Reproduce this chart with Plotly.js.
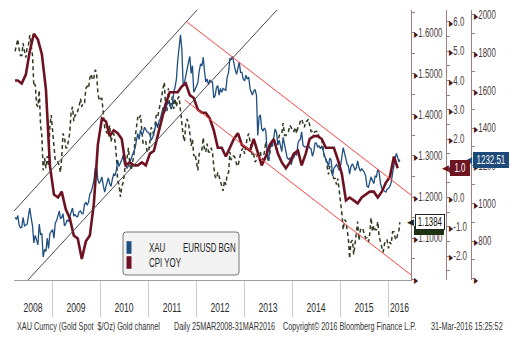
<!DOCTYPE html>
<html><head><meta charset="utf-8">
<script src="https://cdn.plot.ly/plotly-3.0.1.min.js"></script>
<style>html,body{margin:0;padding:0;background:#fff}#chart{width:523px;height:341px}</style>
</head><body><div id="chart"></div>
<script>
// ---------------- DATA ----------------
// XAU (gold spot, $/oz): first point 25 Mar 2008, then 5th/15th/25th of each month Apr 2008 - Mar 2016, last point 31 Mar 2016
const xauValues = [925,
 915,935,885, 870,872,925, 880,885,890, 935,975,925, 880,790,830, 805,780,890, 835,840,715, 755,745,815, 760,840,850,
 860,815,895, 910,945,960, 920,925,945, 880,890,910, 905,930,955, 975,935,940, 930,930,955, 960,945,945, 995,1005,990, 1005,1050,1060, 1090,1120,1185, 1200,1125,1105,
 1120,1140,1095, 1060,1090,1110, 1135,1105,1090, 1130,1155,1150, 1175,1230,1195, 1215,1230,1255, 1210,1205,1185, 1200,1220,1240, 1250,1270,1295, 1335,1370,1340, 1390,1365,1375, 1405,1390,1380,
 1375,1365,1335, 1350,1375,1410, 1430,1400,1435, 1450,1480,1510, 1480,1495,1525, 1540,1525,1500, 1515,1590,1615, 1660,1760,1840, 1895,1820,1630, 1640,1680,1700, 1750,1780,1690, 1730,1590,1605,
 1620,1640,1700, 1740,1730,1775, 1705,1645,1660, 1630,1655,1645, 1645,1560,1570, 1615,1625,1575, 1610,1590,1610, 1605,1600,1670, 1695,1770,1765, 1780,1740,1710, 1685,1715,1750, 1695,1695,1660,
 1650,1680,1660, 1670,1610,1590, 1575,1595,1605, 1575,1360,1460, 1470,1395,1385, 1400,1385,1275, 1225,1285,1320, 1305,1365,1395, 1375,1310,1335, 1310,1275,1350, 1310,1285,1240, 1235,1240,1205,
 1235,1245,1265, 1255,1320,1335, 1340,1380,1310, 1300,1300,1300, 1310,1295,1290, 1250,1275,1320, 1320,1300,1305, 1290,1305,1280, 1265,1230,1220, 1195,1240,1230, 1145,1185,1195, 1205,1195,1175,
 1200,1265,1295, 1265,1230,1205, 1200,1155,1195, 1210,1195,1175, 1190,1225,1190, 1170,1185,1175, 1165,1145,1090, 1085,1115,1140, 1120,1105,1145, 1140,1180,1165, 1105,1080,1070, 1065,1060,1075,
 1080,1090,1110, 1160,1210,1240, 1265,1235,1220,
 1232.51];

// EURUSD BGN, same dates as XAU
const eurValues = [1.555,
 1.575,1.585,1.560, 1.545,1.545,1.575, 1.555,1.540,1.565, 1.570,1.595,1.570, 1.545,1.470,1.475, 1.425,1.420,1.460, 1.375,1.350,1.265, 1.295,1.270,1.300, 1.275,1.375,1.400,
 1.360,1.320,1.290, 1.290,1.285,1.275, 1.260,1.295,1.355, 1.345,1.320,1.320, 1.335,1.355,1.405, 1.420,1.385,1.400, 1.400,1.410,1.420, 1.440,1.420,1.430, 1.430,1.465,1.470, 1.465,1.490,1.500, 1.485,1.490,1.510, 1.505,1.455,1.435,
 1.440,1.440,1.410, 1.370,1.360,1.355, 1.360,1.375,1.335, 1.350,1.355,1.335, 1.300,1.240,1.230, 1.200,1.225,1.235, 1.255,1.290,1.295, 1.320,1.280,1.265, 1.285,1.300,1.345, 1.370,1.395,1.390, 1.400,1.360,1.330, 1.335,1.335,1.310,
 1.310,1.335,1.370, 1.360,1.350,1.380, 1.400,1.395,1.410, 1.425,1.445,1.465, 1.480,1.415,1.410, 1.465,1.420,1.425, 1.445,1.415,1.440, 1.420,1.440,1.445, 1.405,1.380,1.350, 1.335,1.380,1.390, 1.380,1.355,1.325, 1.340,1.300,1.305,
 1.280,1.265,1.305, 1.310,1.315,1.345, 1.315,1.310,1.330, 1.310,1.310,1.320, 1.310,1.275,1.250, 1.245,1.260,1.250, 1.240,1.225,1.215, 1.240,1.230,1.255, 1.260,1.310,1.290, 1.300,1.300,1.295, 1.280,1.275,1.295, 1.305,1.315,1.320,
 1.305,1.330,1.345, 1.355,1.335,1.310, 1.300,1.305,1.285, 1.290,1.310,1.300, 1.310,1.290,1.295, 1.310,1.335,1.310, 1.285,1.305,1.325, 1.325,1.330,1.335, 1.315,1.330,1.350, 1.355,1.355,1.380, 1.350,1.350,1.355, 1.360,1.375,1.370,
 1.360,1.360,1.370, 1.355,1.370,1.375, 1.385,1.390,1.380, 1.370,1.385,1.385, 1.390,1.370,1.360, 1.360,1.355,1.360, 1.360,1.360,1.345, 1.340,1.340,1.320, 1.295,1.295,1.270, 1.255,1.275,1.265, 1.250,1.245,1.245, 1.230,1.245,1.220,
 1.195,1.160,1.120, 1.145,1.140,1.120, 1.100,1.050,1.090, 1.095,1.060,1.085, 1.120,1.140,1.095, 1.120,1.125,1.120, 1.110,1.100,1.100, 1.090,1.110,1.150, 1.115,1.130,1.120, 1.120,1.140,1.105, 1.090,1.075,1.065, 1.085,1.095,1.095,
 1.075,1.090,1.085, 1.115,1.115,1.100, 1.095,1.110,1.120,
 1.1384];

// CPI YOY (%): first point 25 Mar 2008, then one release per month (15th) Apr 2008 - Mar 2016
const cpiValues = [4.0,
 4.0,3.9,4.2,5.0,5.6,5.4,4.9,3.7,1.1,
 0.1,0.0,0.2,-0.4,-0.7,-1.3,-1.4,-2.1,-1.5,-1.3,-0.2,1.8,
 2.7,2.6,2.1,2.3,2.2,2.0,1.1,1.2,1.1,1.1,1.2,1.1,
 1.5,1.6,2.1,2.7,3.2,3.6,3.6,3.6,3.8,3.9,3.5,3.4,
 3.0,2.9,2.9,2.7,2.3,1.7,1.7,1.4,1.7,2.0,2.2,1.8,
 1.7,1.6,2.0,1.5,1.1,1.4,1.8,2.0,1.5,1.2,1.0,1.2,
 1.5,1.6,1.1,1.5,2.0,2.1,2.1,2.0,1.7,1.7,1.7,1.3,
 0.8,-0.1,0.0,-0.1,-0.2,0.0,0.1,0.2,0.2,0.0,0.2,0.5,
 0.7,1.4,1.0];

// Channel trend lines (date, XAU level) drawn on the chart
const blackChannelDates  = [['2008-03-17','2012-01-09'], ['2008-07-01','2013-09-08']];
const blackChannelValues = [[959, 2026.5], [593, 2026.5]];
const redChannelDates    = [['2011-10-24','2016-06-24'], ['2011-10-08','2016-06-24']];
const redChannelValues   = [[1963, 1044], [1549, 620]];

// Axis ticks
const yearLabels   = ['2008','2009','2010','2011','2012','2013','2014','2015','2016'];
const yearLabelPos = ['2008-08-09','2009-07-02','2010-07-02','2011-07-02','2012-07-02','2013-07-02','2014-07-02','2015-07-02','2016-03-28'];
const eurTicks = [1.0,1.1,1.2,1.3,1.4,1.5,1.6];
const cpiTicks = [-2,-1,0,1,2,3,4,5,6];
const xauTicks = [600,800,1000,1200,1400,1600,1800,2000];

const seriesNames = {xau:'XAU', cpi:'CPI YOY', eur:'EURUSD BGN'};
const footerTexts = ['XAU Curncy (Gold Spot  $/Oz) Gold channel', 'Daily 25MAR2008-31MAR2016',
  'Copyright© 2016 Bloomberg Finance L.P.', '31-Mar-2016 15:25:52'];

// ---------------- DATES ----------------
function pad(n){return (n<10?'0':'')+n;}
const xauDates = ['2008-03-25'];
const cpiDates = ['2008-03-25'];
for (let y=2008; y<=2016; y++) {
  for (let m=1; m<=12; m++) {
    if (y===2008 && m<4) continue;
    if (y===2016 && m>3) break;
    [5,15,25].forEach(d => xauDates.push(y+'-'+pad(m)+'-'+pad(d)));
    cpiDates.push(y+'-'+pad(m)+'-15');
  }
}
xauDates.push('2016-03-31');

// ---------------- LAYOUT HELPERS ----------------
const W=523, H=341, ML=14, MR=52, MT=10, MB=61;
const PW=W-ML-MR, PH=H-MT-MB;
const px = v => (v-ML)/PW;
const py = v => (H-MB-v)/PH;
const COND = 0.66;   // horizontal condensation of all texts (narrow Bloomberg face)

const FONT='Liberation Sans, Arial, sans-serif';
const C_XAU='#1f4e80', C_CPI='#6e1222', C_EUR='#2f3a1e';
const AXC='#9a8080', LBL='#4a3c3c';
const tri='<span style="font-size:8px;color:#4a1414">▶</span>';

const traces = [
  {type:'scatter', mode:'lines', x:xauDates, y:eurValues, yaxis:'y', name:seriesNames.eur, showlegend:false,
   line:{color:C_EUR, width:1.5, dash:'4px,3px'}, hoverinfo:'skip'},
  {type:'scatter', mode:'lines', x:xauDates, y:xauValues, yaxis:'y2', name:seriesNames.xau, showlegend:false,
   line:{color:C_XAU, width:1.3}, hoverinfo:'skip'},
  {type:'scatter', mode:'lines', x:cpiDates, y:cpiValues, yaxis:'y3', name:seriesNames.cpi, showlegend:false,
   line:{color:C_CPI, width:2.6}, hoverinfo:'skip'},
  // legend entries
  {type:'scatter', mode:'markers', x:[null], y:[null], name:seriesNames.xau, legend:'legend',
   marker:{symbol:'line-ns-open', size:9, color:C_XAU, line:{color:C_XAU, width:5}}},
  {type:'scatter', mode:'markers', x:[null], y:[null], name:seriesNames.cpi, legend:'legend2',
   marker:{symbol:'line-ns-open', size:9, color:C_CPI, line:{color:C_CPI, width:5}}},
  {type:'scatter', mode:'markers', x:[null], y:[null], name:seriesNames.eur, legend:'legend3',
   marker:{symbol:'line-ns-open', size:9, color:'rgba(255,255,255,0)', line:{color:'rgba(255,255,255,0)', width:5}}}
];

function yAxisCommon(ticks, fmt, range) {
  return {
    range: range, tickmode:'array', tickvals: ticks,
    ticktext: ticks.map(fmt),
    showgrid:false, zeroline:false, showline:true, linecolor:AXC, linewidth:1,
    ticks:'', side:'right',
    tickfont:{family:FONT, size:12, color:LBL}, fixedrange:true
  };
}

const yaxis = Object.assign(yAxisCommon(eurTicks, v => v===1.0 ? tri : tri+v.toFixed(4), [0.9976, 1.656]),
  {anchor:'x', minor:{ticks:'outside', ticklen:3, tickcolor:AXC, dtick:0.05, tick0:1.0}});
const yaxis2 = Object.assign(yAxisCommon(xauTicks, v => v===600 ? tri : tri+v, [593, 2026.5]),
  {overlaying:'y', anchor:'free', position:1.0, minor:{ticks:'outside', ticklen:3, tickcolor:AXC, dtick:100, tick0:600}});
const yaxis3 = Object.assign(yAxisCommon(cpiTicks, v => v===1 ? tri : tri+v.toFixed(1), [-2.82, 6.41]),
  {overlaying:'y', anchor:'free', position:px(446), minor:{ticks:'outside', ticklen:3, tickcolor:AXC, dtick:0.5, tick0:0}});

function lineShapes(dates, vals, color) {
  return dates.map((d,i) => ({type:'line', xref:'x', yref:'y2', x0:d[0], x1:d[1], y0:vals[i][0], y1:vals[i][1],
    line:{color:color, width:1}, layer:'above'}));
}

function roundRect(x0,y0,x1,y1,r){
  const rx=r/PW, ry=r/PH;
  const a=px(x0), b=px(x1), t=py(y0), u=py(y1);
  return `M${a+rx},${t} L${b-rx},${t} Q${b},${t} ${b},${t-ry} L${b},${u+ry} Q${b},${u} ${b-rx},${u} L${a+rx},${u} Q${a},${u} ${a},${u+ry} L${a},${t-ry} Q${a},${t} ${a+rx},${t} Z`;
}

const shapes = [
  ...lineShapes(blackChannelDates, blackChannelValues, '#4a4a4a'),
  ...lineShapes(redChannelDates, redChannelValues, '#ff4444'),
  {type:'path', xref:'paper', yref:'paper', path:roundRect(123,232,239,275,3),
   fillcolor:'#f3f3f3', line:{color:'#777777', width:1}, layer:'above'},
  {type:'rect', xref:'paper', yref:'paper', x0:px(414), x1:px(444), y0:py(235), y1:py(226),
   fillcolor:'#1e3311', line:{width:0}, layer:'above'}
];

const legFont = {family:FONT, size:12, color:'#222'};
function leg(xp, yp){ return {x:px(xp), y:py(yp), xanchor:'left', yanchor:'top', bgcolor:'rgba(0,0,0,0)',
  borderwidth:0, font:legFont, itemwidth:30, orientation:'v'}; }

const lastX = xauValues[xauValues.length-1];
const lastC = cpiValues[cpiValues.length-1];
const lastE = eurValues[eurValues.length-1];

function valueLabel(xp, w, yref, yv, text, bg, fg, border){
  return [
    {xref:'paper', yref:yref, x:px(xp), y:yv, xanchor:'left', yanchor:'middle', text:text, showarrow:false,
     width:w, height:12, align:'center',
     bgcolor:bg, bordercolor:border, borderwidth:1, borderpad:1, font:{family:FONT, size:12, color:fg}},
    {xref:'paper', yref:yref, x:px(xp+1), y:yv, xanchor:'right', yanchor:'middle', text:'◀', showarrow:false,
     font:{family:'DejaVu Sans', size:9, color:border}}
  ];
}

const footFont = {family:FONT, size:11, color:'#333'};
const footX = [15, 172, 281, 429];
const annotations = [
  ...valueLabel(473, 32, 'y2', lastX, lastX.toFixed(2), '#1d4a7a', '#ffffff', '#1d4a7a'),
  ...valueLabel(450, 16, 'y3', lastC, lastC.toFixed(1), '#6e1523', '#ffffff', '#6e1523'),
  ...valueLabel(415, 26, 'y', lastE, lastE.toFixed(4), '#ffffff', '#111111', '#222222'),
  ...footerTexts.map((t,i) => ({xref:'paper', yref:'paper', x:px(footX[i]), y:py(326), xanchor:'left', yanchor:'middle',
     align:'left', showarrow:false, text:t, font:footFont}))
];

const layout = {
  width:W, height:H, margin:{l:ML, r:MR, t:MT, b:MB},
  paper_bgcolor:'#ffffff', plot_bgcolor:'#ffffff',
  showlegend:true,
  xaxis:{type:'date', range:['2008-03-17','2016-06-24'], domain:[0, px(411)],
    tickmode:'array', tickvals:yearLabelPos, ticktext:yearLabels,
    ticks:'outside', ticklen:15, tickcolor:'rgba(0,0,0,0)',
    tickfont:{family:FONT, size:13, color:'#2a2a2a'},
    showgrid:false, zeroline:false, showline:true, linecolor:'#9c9ca4', linewidth:1,
    minor:{ticks:'outside', ticklen:36, tickcolor:'#c9c9d2', tickwidth:1, dtick:'M12', tick0:'2009-01-01'},
    fixedrange:true},
  yaxis:yaxis, yaxis2:yaxis2, yaxis3:yaxis3,
  legend:leg(109, 233), legend2:leg(109, 248), legend3:leg(143, 233),
  shapes:shapes, annotations:annotations
};

Plotly.newPlot('chart', traces, layout, {displayModeBar:false, staticPlot:true}).then(gd => {
  // emulate the narrow Bloomberg face: condense every text horizontally about its anchor
  gd.querySelectorAll('svg text').forEach(t => {
    if (!t.textContent || t.textContent === '◀') return;
    const b = t.getBBox();
    if (!b.width) return;
    // the box of a fixed-width annotation would otherwise clip the condensed text
    if (t.hasAttribute('clip-path')) t.removeAttribute('clip-path');
    const anchor = t.getAttribute('text-anchor') || 'start';
    const ax = anchor === 'middle' ? b.x + b.width/2 : (anchor === 'end' ? b.x + b.width : b.x);
    const prev = t.getAttribute('transform') || '';
    t.setAttribute('transform', (prev + ` translate(${ax.toFixed(2)},0) scale(${COND},1) translate(${(-ax).toFixed(2)},0)`).trim());
  });
});
</script></body></html>
